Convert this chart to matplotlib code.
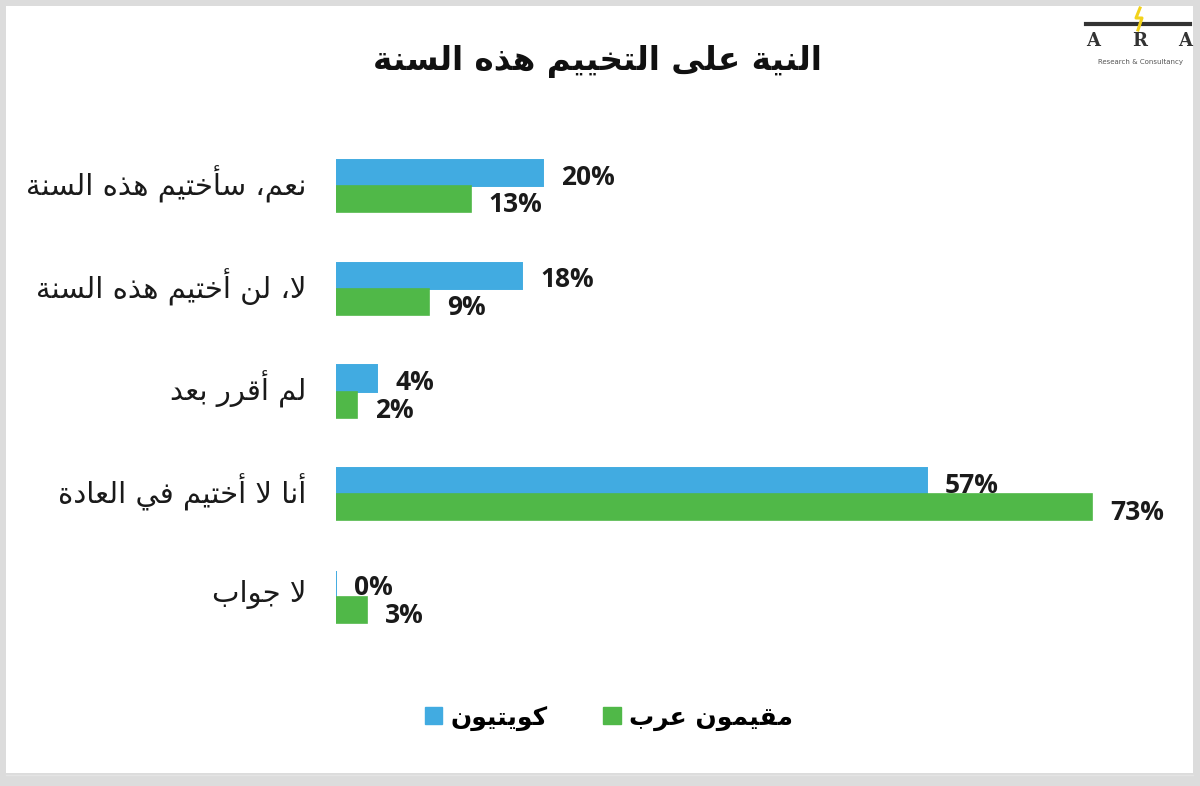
import matplotlib
matplotlib.use("Agg")
import matplotlib.pyplot as plt
from matplotlib.patches import Rectangle, Patch
from matplotlib.lines import Line2D
import numpy as np

# ---- data -------------------------------------------------------------
title = "النية على التخييم هذه السنة"
categories = [
    "نعم، سأختيم هذه السنة",
    "لا، لن أختيم هذه السنة",
    "لم أقرر بعد",
    "أنا لا أختيم في العادة",
    "لا جواب",
]
series_names = ["كويتيون", "مقيمون عرب"]
kuwaitis = [20, 18, 4, 57, 0]
arab_residents = [13, 9, 2, 73, 3]

BLUE = "#41ABE1"
GREEN = "#50B848"


# ---- minimal Arabic shaping (contextual forms + RTL ordering) ----------
def _build_forms():
    letters = "ءآأؤإئابةتثجحخدذرزسشصضطظعغفقكلمنهوىي"
    two = set("آأؤإاةدذرزوى")
    forms, code = {}, 0xFE80
    for ch in letters:
        n = 1 if ch == "ء" else (2 if ch in two else 4)
        forms[ch] = [chr(code + k) for k in range(n)]
        code += n
    return forms


_FORMS = _build_forms()
_LAMALEF = {"آ": 0xFEF5, "أ": 0xFEF7, "إ": 0xFEF9, "ا": 0xFEFB}


def ar(text):
    units = []
    i = 0
    while i < len(text):
        ch = text[i]
        if ch == "ل" and i + 1 < len(text) and text[i + 1] in _LAMALEF:
            base = _LAMALEF[text[i + 1]]
            units.append(([chr(base), chr(base + 1)], True, False))
            i += 2
            continue
        if ch in _FORMS:
            f = _FORMS[ch]
            units.append((f, len(f) >= 2, len(f) == 4))
        else:
            units.append(([ch], False, False))
        i += 1
    out = []
    for k, (f, jp, jn) in enumerate(units):
        prev = k > 0 and jp and units[k - 1][2]
        nxt = k < len(units) - 1 and jn and units[k + 1][1]
        if prev and nxt:
            out.append(f[3])
        elif prev:
            out.append(f[1])
        elif nxt:
            out.append(f[2])
        else:
            out.append(f[0])
    return "".join(reversed(out))


# ---- figure -------------------------------------------------------------
W, H = 1200, 786
fig = plt.figure(figsize=(W / 100, H / 100), dpi=100, facecolor="#dcdcdc")


def fx(px):
    return px / W


def fy(py):
    return 1 - py / H


# white panel inside the grey frame
fig.patches.append(Rectangle((fx(6), fy(773)), fx(1193) - fx(6), fy(6) - fy(773),
                             transform=fig.transFigure, facecolor="white",
                             edgecolor="none", zorder=-5))
fig.lines.append(Line2D([fx(6), fx(1193)], [fy(775), fy(775)], transform=fig.transFigure,
                        color="#e4e4e4", lw=1.0, zorder=-4))

# axes: x from 336 px, 10.36 px per percent; rows spaced ~102.6 px
x0, x1 = 336, 336 + 80 * 10.36
y_top, y_bot = 135, 648
ax = fig.add_axes([fx(x0), fy(y_bot), fx(x1) - fx(x0), fy(y_top) - fy(y_bot)])
ax.set_xlim(0, 80)
ax.set_ylim(len(categories) - 0.5, -0.5)
ax.axis("off")

ypos = np.arange(len(categories))
h = 0.255
ax.barh(ypos - h / 2, kuwaitis, height=h, color=BLUE, edgecolor=BLUE, linewidth=1.4)
ax.barh(ypos + h / 2, arab_residents, height=h, color=GREEN, edgecolor=GREEN, linewidth=1.2)

lab_kw = dict(textcoords="offset points", va="center", ha="left",
              fontsize=19, fontweight="bold", color="#1a1a1a", family="Open Sans")
for yi, v in zip(ypos, kuwaitis):
    ax.annotate(f"{v}%", xy=(v, yi - h / 2), xytext=(13, -3), **lab_kw)
for yi, v in zip(ypos, arab_residents):
    ax.annotate(f"{v}%", xy=(v, yi + h / 2), xytext=(13, -4), **lab_kw)

# category labels, right-aligned to the left of the bars
for yi, c in zip(ypos, categories):
    yy = ax.transData.transform((0, yi))[1] / H
    fig.text(fx(306), yy + 2 / H, ar(c), ha="right", va="center", fontsize=21,
             family="DejaVu Sans", color="#1a1a1a")

# title
fig.text(fx(597), fy(62), ar(title), ha="center", va="center", fontsize=23.5,
         fontweight="bold", family="DejaVu Sans", color="#111111")

# legend
handles = [Patch(facecolor=BLUE, edgecolor=BLUE), Patch(facecolor=GREEN, edgecolor=GREEN)]
leg = fig.legend(handles, [ar(s) for s in series_names], loc="center",
                 bbox_to_anchor=(fx(609), fy(718)), ncol=2, frameon=False,
                 handlelength=0.7, handleheight=0.7, handletextpad=0.35,
                 columnspacing=2.2,
                 prop={"family": "DejaVu Sans", "weight": "bold", "size": 18})

# logo
fig.lines.append(Line2D([fx(1086), fx(1190)], [fy(24), fy(24)], transform=fig.transFigure,
                        color="#333333", lw=3.0))
fig.lines.append(Line2D([fx(1140), fx(1136), fx(1142), fx(1138)],
                        [fy(8), fy(18), fy(18), fy(30)], transform=fig.transFigure,
                        color="#f2d21b", lw=2.2))
for lx, letter in zip([1093, 1140, 1185], "ARA"):
    fig.text(fx(lx), fy(41), letter, ha="center", va="center", fontsize=13,
             family="DejaVu Serif", fontweight="bold", color="#333333")
fig.text(fx(1140), fy(62), "Research & Consultancy", ha="center", va="center",
         fontsize=5, family="DejaVu Sans", color="#555555")

fig.savefig("out.png", dpi=100, facecolor=fig.get_facecolor())
